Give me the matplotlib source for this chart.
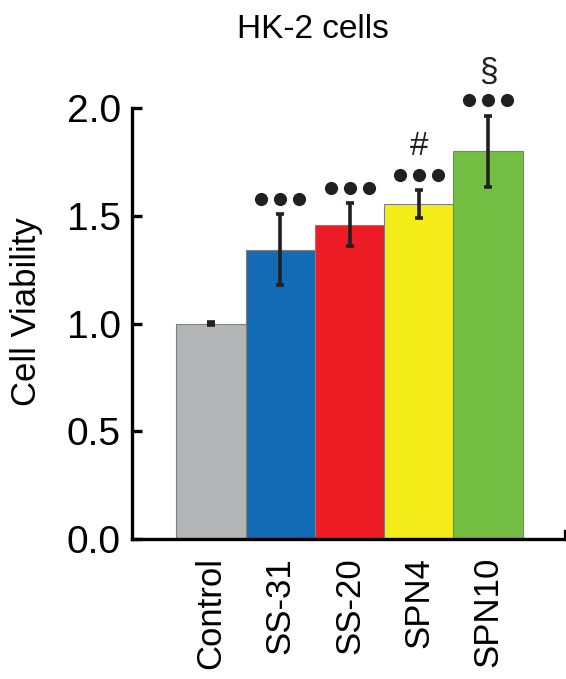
import matplotlib
matplotlib.use('Agg')
import matplotlib.pyplot as plt
import numpy as np

plt.rcParams['font.family'] = ['Liberation Sans', 'DejaVu Sans']

groups = ['Control', 'SS-31', 'SS-20', 'SPN4', 'SPN10']
viability = [1.0, 1.342, 1.458, 1.553, 1.799]
sem = [0.005, 0.165, 0.10, 0.065, 0.164]
colors = ['#b3b5b6', '#136bb5', '#ed1c24', '#f3ec19', '#72bf44']
# significance marks: dots vs control, extra symbol above
n_dots = [0, 3, 3, 3, 3]
extra = ['', '', '', '#', '§']

ink = '#231f20'

fig = plt.figure(figsize=(5.66, 6.79), dpi=100)
ax = fig.add_axes([132 / 566, 140 / 679, 433 / 566, 474 / 679])

x = np.arange(len(groups))
ax.bar(x, viability, width=1.0, color=colors, edgecolor='#7f7f7f', linewidth=0.8, zorder=2)
ax.errorbar(x, viability, yerr=sem, fmt='none', ecolor=ink, elinewidth=2.6,
            capsize=3, capthick=2.6, zorder=3)

# significance dots and symbols
for i in range(len(groups)):
    top = viability[i] + sem[i]
    if n_dots[i]:
        dx = np.array([-0.275, 0, 0.275])
        ax.scatter(x[i] + dx, np.full(3, top + 0.073), s=90, color=ink, zorder=4, linewidths=0)
    if extra[i]:
        ax.text(x[i], top + 0.073 + 0.06, extra[i], ha='center', va='bottom',
                fontsize=24, color=ink)

ax.set_xlim(-1.141, 5.11)
ax.set_ylim(0, 2.2)
ax.set_yticks([0.0, 0.5, 1.0, 1.5, 2.0])
ax.set_yticklabels(['0.0', '0.5', '1.0', '1.5', '2.0'])
ax.set_xticks(x)
ax.set_xticklabels(groups, rotation=90, fontsize=25)

for side in ['left', 'bottom', 'right']:
    ax.spines[side].set_linewidth(2.4)
ax.spines['top'].set_visible(False)
ax.spines['left'].set_bounds(0, 2.0)
ax.spines['right'].set_bounds(0, 0.035)

ax.tick_params(axis='y', direction='in', length=7, width=2.4, labelsize=28, pad=8)
ax.tick_params(axis='x', length=0, pad=13)

ax.set_ylabel('Cell Viability', fontsize=25)
ax.yaxis.set_label_coords(-0.205, 0.48)

fig.text(313 / 566, 1 - 30 / 679, 'HK-2 cells', ha='center', va='center', fontsize=24)
fig.text(0.0, 1.0, 'b', ha='right', va='top', fontsize=22, fontweight='bold')

fig.savefig('out.png', dpi=100)
